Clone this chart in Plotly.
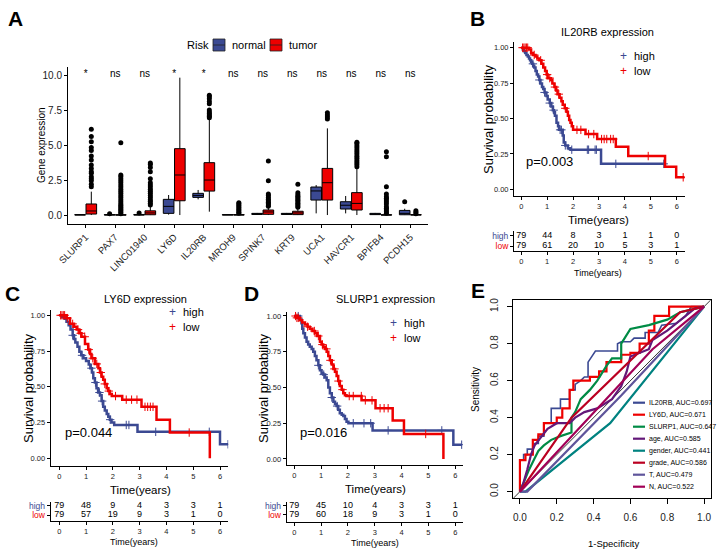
import plotly.graph_objects as go
import numpy as np

W, H = 717, 554
FONT = "Arial, Liberation Sans, sans-serif"
BLUE = "#3B4992"
RED = "#EE0000"

# ---------------- Panel A data ----------------
genes = ["SLURP1", "PAX7", "LINC01940", "LY6D", "IL20RB", "MROH9", "SPINK7", "KRT9",
         "UCA1", "HAVCR1", "BPIFB4", "PCDH15"]
sig_labels = ["*", "ns", "ns", "*", "*", "ns", "ns", "ns", "ns", "ns", "ns", "ns"]
a_yticks = [0, 2.5, 5, 7.5, 10]
sig_y = 10.05
risk_groups = ["normal", "tumor"]

normal_low = [0, 0, 0, 0.03, 1.12, 0, 0.02, 0.02, 0.12, 0.12, 0.02, 0]
normal_q1 = [0, 0, 0, 0.12, 1.26, 0, 0.04, 0.04, 1.07, 0.43, 0.03, 0.02]
normal_med = [0.01, 0.01, 0.01, 0.62, 1.40, 0.01, 0.08, 0.08, 1.72, 0.70, 0.06, 0.12]
normal_q3 = [0.03, 0.03, 0.04, 1.12, 1.55, 0.03, 0.12, 0.12, 2.00, 0.95, 0.12, 0.33]
normal_up = [0.05, 0.05, 0.08, 1.43, 1.79, 0.05, 0.15, 0.15, 2.14, 1.36, 0.15, 0.45]
normal_out = [[], [0.1], [0.15], [], [], [], [], [], [], [], [], [0.95]]

tumor_low = [0, 0, 0, 0, 0.24, 0, 0, 0, 0, 0, 0, 0]
tumor_q1 = [0.07, 0, 0.02, 1.02, 1.71, 0, 0.05, 0.03, 1.07, 0.36, 0, 0]
tumor_med = [0.29, 0.0, 0.15, 2.86, 2.50, 0.01, 0.22, 0.15, 2.31, 0.83, 0.0, 0.01]
tumor_q3 = [0.79, 0.02, 0.30, 4.74, 3.74, 0.03, 0.36, 0.27, 3.33, 1.60, 0.02, 0.03]
tumor_up = [1.67, 0.05, 0.60, 9.81, 6.80, 0.05, 0.55, 0.45, 6.19, 3.30, 0.05, 0.05]
tumor_out = [
    [2.02, 2.2, 2.45, 2.6, 2.74, 2.98, 3.1, 3.33, 3.57, 3.93, 4.21, 4.6, 4.83, 5.24, 5.6, 6.12],
    [0.1, 0.2, 0.3, 0.4, 0.5, 0.6, 0.7, 0.8, 0.95, 1.1, 1.25, 1.4, 1.55, 1.7, 1.85, 2.0,
     2.15, 2.3, 2.45, 2.6, 2.75, 2.86, 5.17],
    [0.72, 0.85, 0.98, 1.1, 1.25, 1.4, 1.55, 1.7, 1.85, 2.0, 2.15, 2.3, 2.6, 3.1, 3.4, 3.6, 3.72],
    [],
    [6.95, 7.05, 7.15, 7.25, 7.35, 7.5, 7.95, 8.1, 8.3, 8.45, 8.55],
    [0.12, 0.2, 0.3, 0.4, 0.5, 0.6, 0.7, 0.8, 0.88],
    [0.62, 0.72, 0.82, 0.92, 1.02, 1.12, 1.25, 1.4, 1.5, 2.45, 3.85],
    [0.55, 0.65, 0.75, 0.85, 0.95, 1.05, 1.15, 1.25, 1.35, 1.45, 1.6, 2.19],
    [6.85, 7.0, 7.15, 7.3],
    [3.45, 3.6, 3.75, 3.9, 4.05, 4.2, 4.35, 4.5, 4.65, 4.8, 4.95, 5.1, 5.2],
    [0.12, 0.24, 0.36, 0.48, 0.6, 0.79, 0.93, 1.07, 1.2, 1.31, 1.5, 2.02, 4.17, 4.52],
    [0.1, 0.2, 0.3],
]

# ---------------- KM data ----------------
risk_times = [0, 1, 2, 3, 4, 5, 6]
km_yticks = [0, 0.25, 0.5, 0.75, 1.0]

# IL20RB (panel B)
il20rb_high_t = [0, 0.06, 0.1, 0.15, 0.2, 0.25, 0.3, 0.34, 0.38, 0.42, 0.46, 0.5, 0.55, 0.6, 0.65,
                 0.7, 0.74, 0.8, 0.85, 0.9, 0.97, 1.02, 1.1, 1.16, 1.22, 1.26, 1.3, 1.36, 1.42, 1.46,
                 1.6, 1.64, 1.7, 1.8, 1.9, 3.08]
il20rb_high_s = [1.0, 0.987, 0.975, 0.962, 0.949, 0.937, 0.924, 0.911, 0.899, 0.886, 0.873, 0.86,
                 0.835, 0.81, 0.797, 0.772, 0.747, 0.722, 0.709, 0.684, 0.659, 0.634, 0.609, 0.584,
                 0.559, 0.545, 0.52, 0.47, 0.445, 0.42, 0.38, 0.33, 0.31, 0.29, 0.28, 0.18]
il20rb_high_end = 5.55
il20rb_high_cens = [0.45, 0.7, 0.9, 1.1, 1.25, 1.5, 1.55, 1.7, 1.95, 2.55, 2.6, 2.85, 2.9, 3.65, 5.5]
il20rb_low_t = [0, 0.3, 0.38, 0.45, 0.55, 0.62, 0.7, 0.78, 0.85, 0.92, 0.98, 1.02, 1.15, 1.2, 1.28,
                1.35, 1.4, 1.48, 1.55, 1.6, 1.68, 1.75, 1.8, 1.85, 1.9, 1.95, 2.0, 2.48, 2.93, 3.65,
                4.13, 5.55, 5.98]
il20rb_low_s = [1.0, 0.987, 0.962, 0.949, 0.937, 0.924, 0.911, 0.886, 0.86, 0.835, 0.81, 0.785,
                0.772, 0.747, 0.722, 0.697, 0.672, 0.647, 0.622, 0.597, 0.572, 0.547, 0.52, 0.49,
                0.47, 0.445, 0.42, 0.39, 0.355, 0.30, 0.235, 0.16, 0.085]
il20rb_low_end = 6.3
il20rb_low_cens = [0.05, 0.1, 0.15, 0.2, 0.25, 0.5, 0.75, 1.0, 1.1, 1.3, 1.45, 1.7, 2.15, 2.3, 2.6,
                   2.8, 3.1, 3.2, 3.3, 3.45, 3.55, 4.9, 6.25]
il20rb_risk_high = [79, 44, 8, 3, 1, 1, 0]
il20rb_risk_low = [79, 61, 20, 10, 5, 3, 1]

# LY6D (panel C)
ly6d_high_t = [0, 0.1, 0.2, 0.27, 0.35, 0.42, 0.5, 0.55, 0.6, 0.68, 0.75, 0.82, 0.9, 1.0, 1.1, 1.16,
               1.22, 1.27, 1.33, 1.39, 1.45, 1.52, 1.58, 1.64, 1.7, 1.77, 1.83, 1.89, 1.95, 2.05,
               2.92, 6.0]
ly6d_high_s = [1.0, 0.987, 0.975, 0.955, 0.93, 0.9, 0.86, 0.835, 0.81, 0.78, 0.745, 0.72, 0.7, 0.68,
               0.655, 0.63, 0.6, 0.56, 0.53, 0.49, 0.46, 0.44, 0.4, 0.36, 0.335, 0.31, 0.29, 0.27,
               0.25, 0.233, 0.185, 0.098]
ly6d_high_end = 6.3
ly6d_high_cens = [0.5, 0.85, 1.2, 1.35, 1.5, 1.6, 1.9, 2.5, 2.6, 3.6, 5.6, 6.3]
ly6d_low_t = [0, 0.27, 0.4, 0.55, 0.65, 0.75, 0.83, 0.96, 1.08, 1.15, 1.2, 1.33, 1.46, 1.52, 1.58,
              1.64, 1.7, 1.77, 1.83, 1.89, 1.96, 2.35, 3.07, 3.63, 4.13, 5.62]
ly6d_low_s = [1.0, 0.98, 0.94, 0.92, 0.9, 0.874, 0.85, 0.8, 0.76, 0.73, 0.7, 0.66, 0.63, 0.6, 0.57,
              0.55, 0.52, 0.49, 0.47, 0.45, 0.435, 0.41, 0.36, 0.27, 0.18, 0.0]
ly6d_low_end = 5.62
ly6d_low_cens = [0.05, 0.1, 0.15, 0.2, 0.3, 0.5, 0.7, 0.8, 0.95, 1.1, 1.25, 1.4, 1.55, 1.7, 1.85,
                 2.1, 2.5, 2.7, 2.9, 3.2, 3.3, 3.4, 3.5, 4.85]
ly6d_risk_high = [79, 48, 9, 4, 3, 3, 1]
ly6d_risk_low = [79, 57, 19, 9, 3, 1, 0]

# SLURP1 (panel D)
slurp1_high_t = [0, 0.21, 0.27, 0.3, 0.34, 0.4, 0.46, 0.52, 0.58, 0.65, 0.71, 0.77, 0.83, 0.9,
                 0.96, 1.02, 1.08, 1.15, 1.21, 1.27, 1.33, 1.4, 1.46, 1.52, 1.58, 1.64, 1.7, 1.77,
                 1.83, 1.89, 1.95, 2.02, 2.92, 5.93]
slurp1_high_s = [1.0, 0.975, 0.95, 0.91, 0.88, 0.85, 0.82, 0.8, 0.785, 0.77, 0.75, 0.72, 0.69,
                 0.655, 0.62, 0.6, 0.59, 0.57, 0.55, 0.5, 0.46, 0.43, 0.4, 0.385, 0.37, 0.345,
                 0.32, 0.31, 0.3, 0.28, 0.26, 0.25, 0.2, 0.1]
slurp1_high_end = 6.24
slurp1_high_cens = [0.15, 0.9, 1.1, 1.4, 1.6, 2.2, 2.6, 2.85, 3.5, 5.5, 6.24]
slurp1_low_t = [0, 0.1, 0.21, 0.3, 0.4, 0.5, 0.58, 0.68, 0.77, 0.85, 0.96, 1.02, 1.08, 1.15, 1.21,
                1.27, 1.33, 1.4, 1.46, 1.52, 1.58, 1.64, 1.7, 1.77, 1.83, 1.89, 1.95, 2.51, 3.03,
                3.67, 4.09, 5.56]
slurp1_low_s = [1.0, 0.987, 0.97, 0.955, 0.94, 0.925, 0.91, 0.895, 0.88, 0.86, 0.82, 0.8, 0.785,
                0.77, 0.75, 0.72, 0.69, 0.66, 0.63, 0.61, 0.58, 0.545, 0.51, 0.485, 0.46, 0.445,
                0.44, 0.41, 0.355, 0.27, 0.175, 0.0]
slurp1_low_end = 5.56
slurp1_low_cens = [0.05, 0.1, 0.15, 0.5, 0.75, 0.9, 1.05, 1.2, 1.35, 1.5, 1.65, 1.8, 2.05, 2.2,
                   2.5, 2.65, 2.9, 3.2, 3.35, 3.5, 4.9]
slurp1_risk_high = [79, 45, 10, 4, 3, 3, 1]
slurp1_risk_low = [79, 60, 18, 9, 3, 1, 0]

# ---------------- ROC data (panel E) ----------------
roc_names = ["IL20RB", "LY6D", "SLURP1", "age", "gender", "grade", "T", "N"]
roc_auc = [0.697, 0.671, 0.647, 0.585, 0.441, 0.586, 0.479, 0.522]
roc_colors = ["#3B4992", "#EE0000", "#008B45", "#631879", "#008280", "#BB0021", "#5F559B", "#A20056"]
roc_fpr = [
    [0, 0, 0.02, 0.02, 0.04, 0.04, 0.07, 0.07, 0.1, 0.1, 0.13, 0.13, 0.17, 0.17, 0.22, 0.22, 0.27,
     0.27, 0.3, 0.3, 0.33, 0.35, 0.37, 0.37, 0.39, 0.41, 0.53, 0.53, 0.55, 0.6, 0.62, 0.68, 0.68,
     0.75, 0.77, 0.85, 0.9, 0.93, 1],
    [0, 0, 0.03, 0.03, 0.07, 0.07, 0.1, 0.1, 0.13, 0.13, 0.2, 0.2, 0.23, 0.23, 0.27, 0.27, 0.29,
     0.29, 0.38, 0.38, 0.43, 0.43, 0.47, 0.47, 0.55, 0.55, 0.6, 0.6, 0.65, 0.65, 0.7, 0.7, 0.73,
     0.73, 0.81, 0.81, 1],
    [0, 0.02, 0.05, 0.08, 0.1, 0.13, 0.17, 0.22, 0.28, 0.28, 0.3, 0.33, 0.35, 0.38, 0.42, 0.45,
     0.47, 0.5, 0.55, 0.55, 0.57, 0.6, 0.7, 0.8, 0.87, 1],
    [0, 0.02, 0.04, 0.06, 0.08, 0.12, 0.15, 0.2, 0.27, 0.3, 0.35, 0.42, 0.5, 0.55, 0.58, 0.6, 0.7,
     0.72, 0.8, 0.9, 0.95, 1],
    [0, 0.03, 0.49, 1],
    [0, 0.28, 0.87, 1],
    [0, 0.04, 0.55, 1],
    [0, 0.02, 0.72, 1],
]
roc_tpr = [
    [0, 0.17, 0.17, 0.2, 0.2, 0.23, 0.23, 0.26, 0.26, 0.3, 0.3, 0.37, 0.37, 0.45, 0.45, 0.5, 0.5,
     0.55, 0.55, 0.58, 0.6, 0.62, 0.62, 0.7, 0.73, 0.76, 0.76, 0.8, 0.81, 0.81, 0.83, 0.83, 0.86,
     0.86, 0.9, 0.91, 0.95, 1, 1],
    [0, 0.17, 0.17, 0.2, 0.2, 0.28, 0.28, 0.31, 0.31, 0.37, 0.37, 0.4, 0.4, 0.45, 0.45, 0.55, 0.55,
     0.6, 0.6, 0.62, 0.62, 0.65, 0.65, 0.7, 0.7, 0.74, 0.74, 0.75, 0.75, 0.8, 0.8, 0.87, 0.87,
     0.95, 0.95, 1, 1],
    [0, 0.05, 0.12, 0.18, 0.22, 0.25, 0.28, 0.3, 0.32, 0.4, 0.43, 0.5, 0.52, 0.55, 0.6, 0.65, 0.68,
     0.72, 0.72, 0.8, 0.83, 0.88, 0.9, 0.93, 0.97, 1],
    [0, 0.05, 0.12, 0.2, 0.25, 0.3, 0.34, 0.37, 0.37, 0.4, 0.43, 0.45, 0.5, 0.57, 0.65, 0.73, 0.77,
     0.82, 0.87, 0.95, 0.99, 1],
    [0, 0, 0.37, 1],
    [0, 0.4, 0.97, 1],
    [0, 0, 0.52, 1],
    [0, 0.02, 0.77, 1],
]
roc_ticks = [0, 0.2, 0.4, 0.6, 0.8, 1.0]

# ---------------- helpers ----------------
def xdom(x0, x1):
    return [x0 / W, x1 / W]


def ydom(top, bot):
    return [1 - bot / H, 1 - top / H]


def P(x, y):
    return x / W, 1 - y / H


annotations = []
shapes = []


def ann(text, x, y, size, color="black", xanchor="center", yanchor="middle", angle=0, family=FONT):
    px_, py_ = P(x, y)
    annotations.append(dict(text=text, x=px_, y=py_, xref="paper", yref="paper", showarrow=False,
                            xanchor=xanchor, yanchor=yanchor, textangle=angle,
                            font=dict(size=size, color=color, family=family)))


def pline(x0, y0, x1, y1, color, width):
    a0, b0 = P(x0, y0)
    a1, b1 = P(x1, y1)
    shapes.append(dict(type="line", xref="paper", yref="paper", x0=a0, y0=b0, x1=a1, y1=b1,
                       line=dict(color=color, width=width)))


def prect(x0, y0, x1, y1, fill):
    a0, b0 = P(x0, y0)
    a1, b1 = P(x1, y1)
    shapes.append(dict(type="rect", xref="paper", yref="paper", x0=a0, y0=b0, x1=a1, y1=b1,
                       fillcolor=fill, line=dict(color="#222", width=0.8)))


def axis(**kw):
    base = dict(showgrid=False, zeroline=False, showline=True, linecolor="black", linewidth=1,
                ticks="outside", ticklen=3, tickcolor="black", tickwidth=1,
                tickfont=dict(size=9, color="#222", family=FONT), automargin=False)
    base.update(kw)
    return base


fig = go.Figure()

# ---------------- Panel A ----------------
OFF, BW = 0.19, 0.36
idx = np.arange(len(genes))
fig.add_trace(go.Box(x=idx - OFF, q1=normal_q1, median=normal_med, q3=normal_q3,
                     lowerfence=normal_low, upperfence=normal_up, width=BW, name="normal",
                     fillcolor=BLUE, line=dict(color="black", width=1), whiskerwidth=0,
                     boxpoints=False, showlegend=False, hoverinfo="skip", xaxis="x", yaxis="y"))
fig.add_trace(go.Box(x=idx + OFF, q1=tumor_q1, median=tumor_med, q3=tumor_q3,
                     lowerfence=tumor_low, upperfence=tumor_up, width=BW, name="tumor",
                     fillcolor=RED, line=dict(color="black", width=1), whiskerwidth=0,
                     boxpoints=False, showlegend=False, hoverinfo="skip", xaxis="x", yaxis="y"))
for outs, sign in ((normal_out, -1), (tumor_out, 1)):
    ox, oy = [], []
    for i, vals in enumerate(outs):
        ox += [i + sign * OFF] * len(vals)
        oy += vals
    fig.add_trace(go.Scatter(x=ox, y=oy, mode="markers", marker=dict(color="black", size=5),
                             showlegend=False, hoverinfo="skip", xaxis="x", yaxis="y"))
fig.add_trace(go.Scatter(x=idx, y=[sig_y] * len(genes), mode="text", text=sig_labels,
                         textfont=dict(size=10, color="black", family=FONT), showlegend=False,
                         hoverinfo="skip", xaxis="x", yaxis="y"))


# ---------------- KM panels ----------------
def step_at(t, s, c):
    k = np.searchsorted(np.asarray(t), np.asarray(c), side="right") - 1
    return np.asarray(s)[k]


def km(xa, ya, curves):
    for t, s, end, cens, col in curves:
        fig.add_trace(go.Scatter(x=list(t) + [end], y=list(s) + [s[-1]], mode="lines",
                                 line=dict(color=col, width=2.5, shape="hv"), showlegend=False,
                                 hoverinfo="skip", xaxis=xa, yaxis=ya))
        fig.add_trace(go.Scatter(x=cens, y=step_at(t, s, cens), mode="markers",
                                 marker=dict(symbol="cross-thin", size=6, line=dict(color=col, width=1)),
                                 showlegend=False, hoverinfo="skip", xaxis=xa, yaxis=ya))


def risk(xa, ya, high, low):
    for row, vals in ((2, high), (1, low)):
        fig.add_trace(go.Scatter(x=risk_times, y=[row] * len(vals), mode="text",
                                 text=[str(v) for v in vals],
                                 textfont=dict(size=9, color="black", family=FONT),
                                 showlegend=False, hoverinfo="skip", xaxis=xa, yaxis=ya))


km("x2", "y2", [(il20rb_high_t, il20rb_high_s, il20rb_high_end, il20rb_high_cens, BLUE),
                (il20rb_low_t, il20rb_low_s, il20rb_low_end, il20rb_low_cens, RED)])
risk("x3", "y3", il20rb_risk_high, il20rb_risk_low)
km("x4", "y4", [(ly6d_high_t, ly6d_high_s, ly6d_high_end, ly6d_high_cens, BLUE),
                (ly6d_low_t, ly6d_low_s, ly6d_low_end, ly6d_low_cens, RED)])
risk("x5", "y5", ly6d_risk_high, ly6d_risk_low)
km("x6", "y6", [(slurp1_high_t, slurp1_high_s, slurp1_high_end, slurp1_high_cens, BLUE),
                (slurp1_low_t, slurp1_low_s, slurp1_low_end, slurp1_low_cens, RED)])
risk("x7", "y7", slurp1_risk_high, slurp1_risk_low)

# ---------------- ROC panel ----------------
ROC_RANGE = [-0.036, 1.036]
fig.add_trace(go.Scatter(x=ROC_RANGE, y=ROC_RANGE, mode="lines", line=dict(color="black", width=0.8),
                         showlegend=False, hoverinfo="skip", xaxis="x8", yaxis="y8"))
for k in range(len(roc_names)):
    fig.add_trace(go.Scatter(x=roc_fpr[k], y=roc_tpr[k], mode="lines",
                             line=dict(color=roc_colors[k], width=1.6 if k == 0 else 2.2),
                             showlegend=False, hoverinfo="skip", xaxis="x8", yaxis="y8"))

# ---------------- layout ----------------
risk_ticktext = [f"<span style='color:{RED}'>low</span>", f"<span style='color:{BLUE}'>high</span>"]
km_tick = dict(size=7.5, color="#222", family=FONT)

layout = dict(
    width=W, height=H, margin=dict(l=0, r=0, t=0, b=0),
    paper_bgcolor="white", plot_bgcolor="white", boxmode="overlay", showlegend=False,
    font=dict(family=FONT, color="black"),
    xaxis=axis(domain=xdom(68, 428), range=[-0.6, 11.6], tickvals=list(idx), ticktext=genes,
               tickangle=-45, anchor="y", tickfont=dict(size=9.5, color="#222", family=FONT)),
    yaxis=axis(domain=ydom(66.6, 224), range=[-0.64, 10.6], tickvals=a_yticks, tickformat=".1f",
               anchor="x", tickfont=dict(size=10, color="#222", family=FONT)),
    # B
    xaxis2=axis(domain=xdom(514, 685), range=[-0.28, 6.32], tickvals=risk_times, anchor="y2",
                tickfont=km_tick),
    yaxis2=axis(domain=ydom(42.3, 196), range=[-0.047, 1.038], tickvals=km_yticks,
                tickformat=".2f", anchor="x2", tickfont=km_tick),
    xaxis3=axis(domain=xdom(514, 685), range=[-0.28, 6.32], tickvals=risk_times, anchor="y3",
                tickfont=km_tick),
    yaxis3=axis(domain=ydom(231, 250.7), range=[0.545, 2.46], tickvals=[1, 2],
                ticktext=risk_ticktext, anchor="x3", tickfont=dict(size=8.5, family=FONT)),
    # C
    xaxis4=axis(domain=xdom(50.7, 228.3), range=[-0.32, 6.31], tickvals=risk_times, anchor="y4",
                tickfont=km_tick),
    yaxis4=axis(domain=ydom(310, 466), range=[-0.054, 1.037], tickvals=km_yticks,
                tickformat=".2f", anchor="x4", tickfont=km_tick),
    xaxis5=axis(domain=xdom(50.7, 228.3), range=[-0.32, 6.31], tickvals=risk_times, anchor="y5",
                tickfont=km_tick),
    yaxis5=axis(domain=ydom(502, 520.7), range=[0.37, 2.44], tickvals=[1, 2],
                ticktext=risk_ticktext, anchor="x5", tickfont=dict(size=8.5, family=FONT)),
    # D
    xaxis6=axis(domain=xdom(286.7, 463), range=[-0.28, 6.29], tickvals=risk_times, anchor="y6",
                tickfont=km_tick),
    yaxis6=axis(domain=ydom(311.7, 465), range=[-0.042, 1.03], tickvals=km_yticks,
                tickformat=".2f", anchor="x6", tickfont=km_tick),
    xaxis7=axis(domain=xdom(286.7, 463), range=[-0.28, 6.29], tickvals=risk_times, anchor="y7",
                tickfont=km_tick),
    yaxis7=axis(domain=ydom(502, 522), range=[0.22, 2.44], tickvals=[1, 2],
                ticktext=risk_ticktext, anchor="x7", tickfont=dict(size=8.5, family=FONT)),
    # E
    xaxis8=axis(domain=xdom(513.3, 710.7), range=ROC_RANGE, tickvals=roc_ticks, tickformat=".1f",
                mirror=True, ticklen=5, ticklabelstandoff=5, anchor="y8",
                tickfont=dict(size=10, color="#222", family=FONT)),
    yaxis8=axis(domain=ydom(300, 498.3), range=ROC_RANGE, tickvals=roc_ticks, tickformat=".1f",
                mirror=True, ticklen=5, ticklabelstandoff=5, tickangle=-90, anchor="x8",
                tickfont=dict(size=10, color="#222", family=FONT)),
)

# ---------------- text annotations ----------------
for lab, x, y in (("A", 15, 18), ("B", 477, 18), ("C", 13, 293), ("D", 251, 293), ("E", 478, 290)):
    ann(f"<b>{lab}</b>", x, y, 21)

ann("Gene expression", 42, 145, 10, angle=-90)

# Panel A legend (Risk)
ann("Risk", 198, 45, 11)
for gname, col, kx, tx in ((risk_groups[0], BLUE, 213, 230), (risk_groups[1], RED, 270, 287)):
    prect(kx, 39, kx + 12, 51, col)
    pline(kx, 45, kx + 12, 45, "#222", 0.8)
    ann(gname, tx, 45, 11, xanchor="left")

# KM panel texts
km_text = [
    ("IL20RB expression", 607, 32, 489, 119, 598, 220, "p=0.003", 524, 162, 623, 56, 598, 273),
    ("LY6D expression", 145, 299, 28, 388, 140, 490, "p=0.044", 63, 432, 172, 312, 134, 542),
    ("SLURP1 expression", 385, 299, 263, 388, 375, 489, "p=0.016", 298, 432, 393, 323, 375, 543),
]
for (title, tx, ty, ylx, yly, xlx, xly, pv, pxx, pyy, lx, ly, rx, ry) in km_text:
    ann(title, tx, ty, 11)
    ann("Survival probability", ylx, yly, 13, angle=-90)
    ann("Time(years)", xlx, xly, 11.5)
    ann(pv, pxx, pyy, 13, xanchor="left")
    for j, (name, col) in enumerate((("high", BLUE), ("low", RED))):
        ann("+", lx, ly + 15 * j, 12, color=col)
        ann(name, lx + 9, ly + 15 * j, 11, xanchor="left")
    ann("Time(years)", rx, ry, 9)

# ROC texts
ann("Sensitivity", 475, 390, 10, angle=-90)
ann("1-Specificity", 613, 543, 9.5)
for k, (name, auc, col) in enumerate(zip(roc_names, roc_auc, roc_colors)):
    yy = 402.7 + 12 * k
    pline(633, yy, 645, yy, col, 2.2)
    ann(f"{name}, AUC={auc:.3f}", 647, yy, 7, xanchor="left")

layout["annotations"] = annotations
layout["shapes"] = shapes
fig.update_layout(**layout)
fig.write_html("out.html")
